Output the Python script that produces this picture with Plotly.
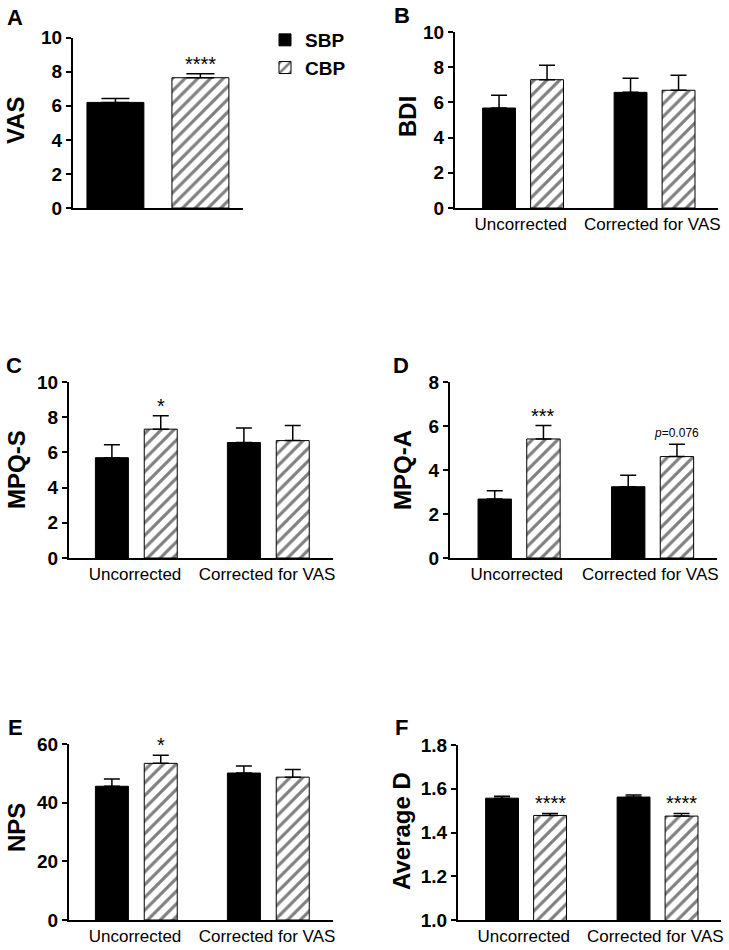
import plotly.graph_objects as go

W, H = 729, 950


def px(x):
    return x / W


def py(y):
    return 1 - y / H


categories = ["Uncorrected", "Corrected for VAS"]
groups = ["SBP", "CBP"]

# Panel A (VAS)
vas_sbp = [6.20]
vas_sbp_err = [0.23]
vas_cbp = [7.65]
vas_cbp_err = [0.24]
vas_sig = ["****"]

# Panel B (BDI)
bdi_sbp = [5.68, 6.57]
bdi_sbp_err = [0.72, 0.80]
bdi_cbp = [7.29, 6.69]
bdi_cbp_err = [0.82, 0.85]
bdi_sig = ["", ""]

# Panel C (MPQ-S)
mpqs_sbp = [5.70, 6.56]
mpqs_sbp_err = [0.73, 0.82]
mpqs_cbp = [7.32, 6.67]
mpqs_cbp_err = [0.76, 0.86]
mpqs_sig = ["*", ""]

# Panel D (MPQ-A)
mpqa_sbp = [2.68, 3.24]
mpqa_sbp_err = [0.38, 0.52]
mpqa_cbp = [5.41, 4.61]
mpqa_cbp_err = [0.61, 0.56]
mpqa_sig = ["***", "<i>p</i>=0.076"]

# Panel E (NPS)
nps_sbp = [45.6, 50.1]
nps_sbp_err = [2.5, 2.4]
nps_cbp = [53.4, 48.7]
nps_cbp_err = [2.8, 2.6]
nps_sig = ["*", ""]

# Panel F (Average D)
avgd_sbp = [1.557, 1.562]
avgd_sbp_err = [0.009, 0.010]
avgd_cbp = [1.478, 1.475]
avgd_cbp_err = [0.009, 0.012]
avgd_sig = ["****", "****"]

FONT = "Liberation Sans, Arial, sans-serif"

panels = [
    dict(key="A", title="VAS", cats=["VAS"], sbp=vas_sbp, sbpe=vas_sbp_err, cbp=vas_cbp, cbpe=vas_cbp_err,
         sig=vas_sig, rng=[0, 10], dt=2, fmt="", box=(73, 243, 37.7, 208), lab=(15, 17), tit=(16, 120),
         off=(-0.418, 0.082), bw=0.335, cap=14),
    dict(key="B", title="BDI", cats=categories, sbp=bdi_sbp, sbpe=bdi_sbp_err, cbp=bdi_cbp, cbpe=bdi_cbp_err,
         sig=bdi_sig, rng=[0, 10], dt=2, fmt="", box=(455, 718, 32, 208), lab=(402, 15), tit=(407, 117),
         off=(-0.29, 0.075), bw=0.25, cap=8),
    dict(key="C", title="MPQ-S", cats=categories, sbp=mpqs_sbp, sbpe=mpqs_sbp_err, cbp=mpqs_cbp, cbpe=mpqs_cbp_err,
         sig=mpqs_sig, rng=[0, 10], dt=2, fmt="", box=(69, 333, 382, 558), lab=(14, 365), tit=(16, 470),
         off=(-0.30, 0.07), bw=0.25, cap=8),
    dict(key="D", title="MPQ-A", cats=categories, sbp=mpqa_sbp, sbpe=mpqa_sbp_err, cbp=mpqa_cbp, cbpe=mpqa_cbp_err,
         sig=mpqa_sig, rng=[0, 8], dt=2, fmt="", box=(450, 717, 382, 558), lab=(401, 365), tit=(402, 470),
         off=(-0.29, 0.075), bw=0.25, cap=8),
    dict(key="E", title="NPS", cats=categories, sbp=nps_sbp, sbpe=nps_sbp_err, cbp=nps_cbp, cbpe=nps_cbp_err,
         sig=nps_sig, rng=[0, 60], dt=20, fmt="", box=(69, 333, 744, 920), lab=(15, 727), tit=(16, 827),
         off=(-0.30, 0.07), bw=0.25, cap=8),
    dict(key="F", title="Average D", cats=categories, sbp=avgd_sbp, sbpe=avgd_sbp_err, cbp=avgd_cbp, cbpe=avgd_cbp_err,
         sig=avgd_sig, rng=[1.0, 1.8], dt=0.2, fmt=".1f", box=(458, 721, 745, 920), lab=(401, 727), tit=(401, 831),
         off=(-0.29, 0.075), bw=0.25, cap=8),
]

fig = go.Figure()
layout = dict(
    width=W, height=H, margin=dict(l=0, r=0, t=0, b=0, pad=0, autoexpand=False),
    paper_bgcolor="white", plot_bgcolor="white",
    barmode="group", showlegend=True,
    font=dict(family=FONT, color="black"),
    legend=dict(x=px(265), y=py(21), xanchor="left", yanchor="top",
                font=dict(family=FONT, size=19, weight="bold", color="black"),
                bgcolor="rgba(0,0,0,0)", tracegroupgap=0, itemwidth=30),
)
annotations = []

for i, p in enumerate(panels):
    n = "" if i == 0 else str(i + 1)
    xa, ya = "x" + n, "y" + n
    x0, x1, yt, yb = p["box"]
    ncat = len(p["cats"])
    layout["xaxis" + n] = dict(
        domain=[px(x0), px(x1)], anchor=ya, type="category", range=[-0.5, ncat - 0.5],
        showline=True, linecolor="black", linewidth=2, ticks="", showgrid=False, zeroline=False,
        showticklabels=(ncat > 1), tickfont=dict(family=FONT, size=17, color="black"),
        fixedrange=True, automargin=False,
    )
    layout["yaxis" + n] = dict(
        domain=[py(yb), py(yt)], anchor=xa, range=p["rng"], dtick=p["dt"], tick0=p["rng"][0],
        tickformat=p["fmt"], showline=True, linecolor="black", linewidth=2, ticks="outside",
        ticklen=5, tickwidth=2, tickcolor="black", showgrid=False, zeroline=False,
        tickfont=dict(family=FONT, size=19, weight="bold", color="black"), fixedrange=True,
        automargin=False,
    )
    first = (i == 0)
    fig.add_trace(go.Bar(
        x=p["cats"], y=p["sbp"], name="SBP", xaxis=xa, yaxis=ya, showlegend=first, legendgroup="SBP",
        offset=p["off"][0], width=p["bw"],
        marker=dict(color="black", line=dict(color="black", width=1)),
        error_y=dict(type="data", array=p["sbpe"], arrayminus=[0] * ncat, symmetric=False,
                     color="black", thickness=1.5, width=p["cap"]),
    ))
    fig.add_trace(go.Bar(
        x=p["cats"], y=p["cbp"], name="CBP", xaxis=xa, yaxis=ya, showlegend=first, legendgroup="CBP",
        offset=p["off"][1], width=p["bw"],
        marker=dict(color="white", line=dict(color="black", width=1),
                    pattern=dict(shape="/", fgcolor="black", bgcolor="white", size=9, solidity=0.35)),
        error_y=dict(type="data", array=p["cbpe"], arrayminus=[0] * ncat, symmetric=False,
                     color="black", thickness=1.5, width=p["cap"]),
    ))
    for j, s in enumerate(p["sig"]):
        if not s:
            continue
        small = s.startswith("<i>")
        annotations.append(dict(
            x=j + p["off"][1] + p["bw"] / 2, y=p["cbp"][j] + p["cbpe"][j], xref=xa, yref=ya,
            text=s, showarrow=False, yanchor="bottom", xanchor="center",
            yshift=2 if small else -3,
            font=dict(family=FONT, size=12 if small else 20, color="black"),
        ))
    annotations.append(dict(
        x=px(p["lab"][0]), y=py(p["lab"][1]), xref="paper", yref="paper", text=p["key"],
        showarrow=False, xanchor="center", yanchor="middle",
        font=dict(family=FONT, size=22, weight="bold", color="black"),
    ))
    annotations.append(dict(
        x=px(p["tit"][0]), y=py(p["tit"][1]), xref="paper", yref="paper", text=p["title"],
        showarrow=False, xanchor="center", yanchor="middle", textangle=-90,
        font=dict(family=FONT, size=24, weight="bold", color="black"),
    ))

layout["annotations"] = annotations
fig.update_layout(**layout)
# remove the default 8px page margin so the 729x950 figure fills the window exactly
fig.write_html(
    "out.html",
    config={"displayModeBar": False, "staticPlot": True},
    post_script="document.body.style.margin='0';document.body.style.overflow='hidden';",
)
